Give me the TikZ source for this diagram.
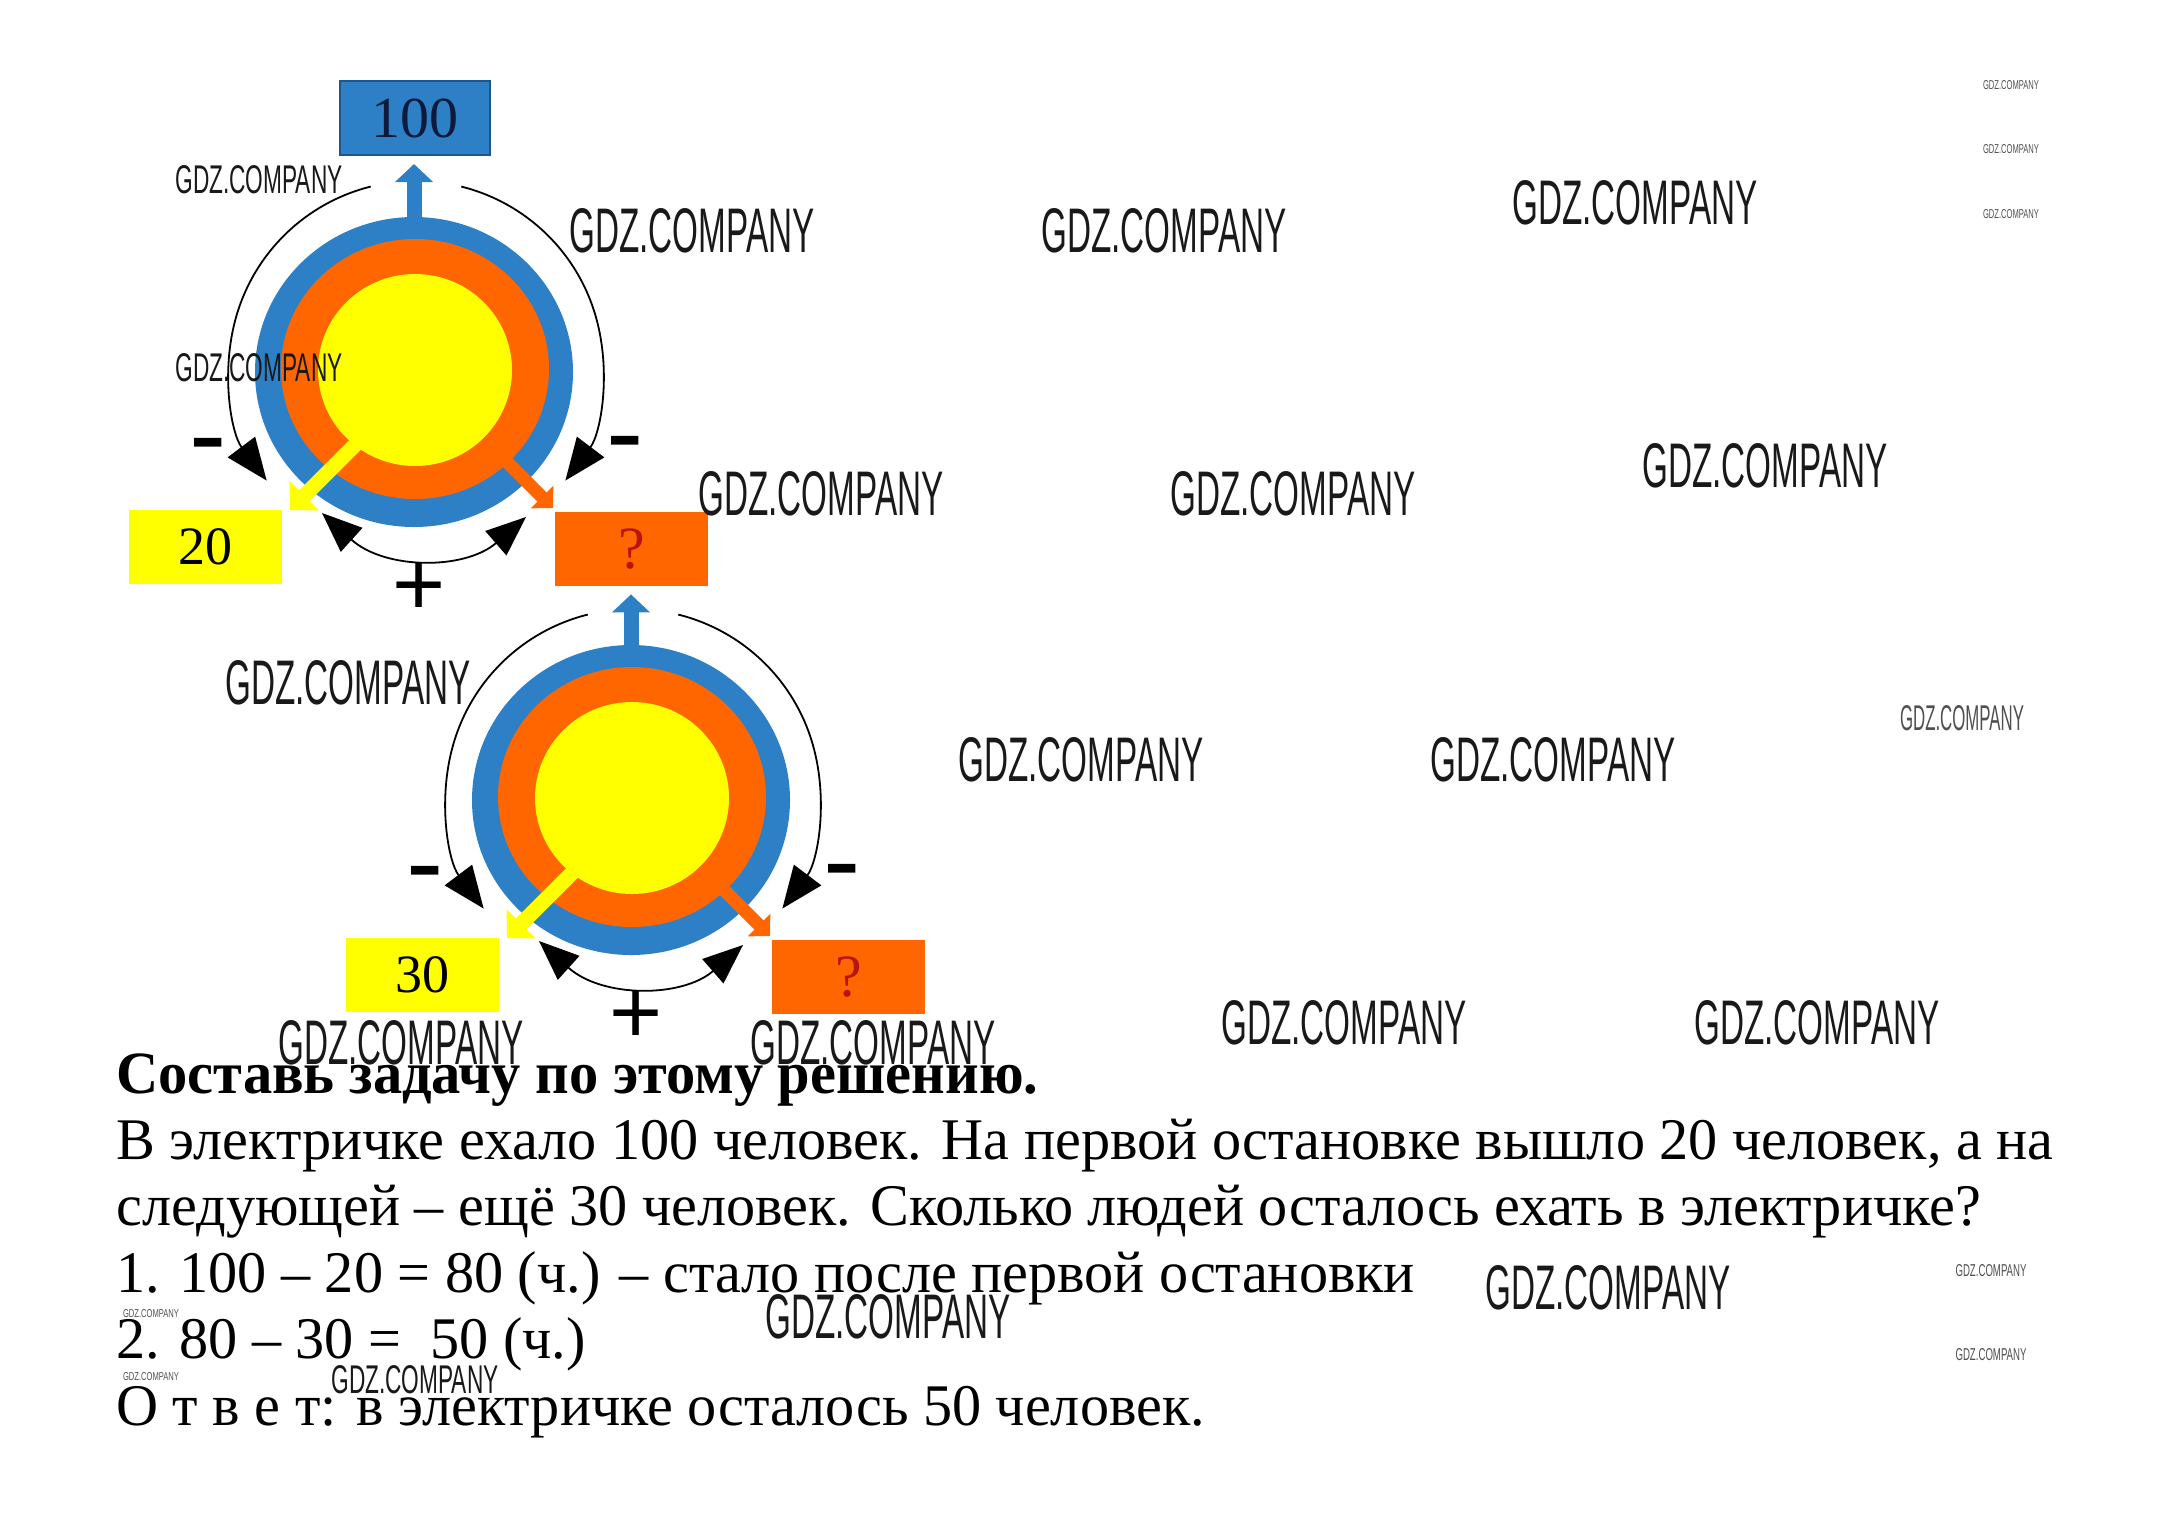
\documentclass[tikz,border=0pt]{standalone}
\usepackage{fontspec}
\setmainfont{Liberation Serif}
\newfontfamily\wmfont{Liberation Sans}
\newfontfamily\signfont{Liberation Sans}
\usetikzlibrary{arrows.meta,shapes.geometric}
\definecolor{ringblue}{RGB}{46,128,198}
\definecolor{boxblueborder}{RGB}{28,86,140}
\definecolor{ringorange}{RGB}{255,102,0}
\definecolor{ringyellow}{RGB}{255,255,0}
\definecolor{qred}{RGB}{185,20,20}
\definecolor{numnavy}{RGB}{15,25,60}
\definecolor{wmgray}{RGB}{80,80,80}
\definecolor{wmdark}{RGB}{25,25,25}
\newsavebox\lineboxB
\newsavebox\lineboxH
\newcommand\bodyfont{\fontsize{29.5}{33}\selectfont}
\newcommand\headfont{\fontsize{30}{33}\selectfont\bfseries}
\tikzset{
  ring/.style={ellipse, inner sep=0pt, draw=none},
  numbox/.style={rectangle, inner sep=0pt, minimum width=76.5pt, minimum height=37pt, font=\fontsize{27}{30}\selectfont},
  uparrow/.style={ringblue, line width=7.5pt, -{Triangle[width=18.5pt,length=9pt]}, shorten >=4pt},
  yarrow/.style={ringyellow, line width=7.5pt, -{Triangle[width=20pt,length=10pt]}},
  oarrow/.style={ringorange, line width=6.5pt, -{Triangle[width=15.5pt,length=7.75pt]}},
  blackarc/.style={line width=0.9pt, black, -{Triangle[length=21pt,width=17pt]}},
  botharc/.style={line width=0.9pt, black, {Triangle[length=20pt,width=16pt]}-{Triangle[length=20pt,width=16pt]}},
  minussign/.style={anchor=base, inner sep=0pt, font=\signfont\fontsize{56}{56}\selectfont},
  plussign/.style={anchor=base, inner sep=0pt, font=\signfont\fontsize{45.5}{46}\selectfont},
  textline/.style={anchor=base west, inner sep=0pt},
  wm/.style={inner sep=0pt, font=\wmfont}
}
\newcommand\stopdiagram[4]{%
\begin{scope}[shift={(#2)}]
  \node[ring, fill=ringblue, minimum width=159pt, minimum height=155pt] (#1blue) at (414,372) {};
  \node[ring, fill=ringorange, minimum width=134pt, minimum height=130pt] (#1orange) at (415,369) {};
  \node[ring, fill=ringyellow, minimum width=97pt, minimum height=96pt] (#1yellow) at (415,370) {};
  \draw[uparrow] (#1blue.north) -- (#1blue.north |- #4.south);
  \coordinate (#1ystart) at (358,442);
  \coordinate (#1yend) at (290,510);
  \coordinate (#1ostart) at (493,448);
  \coordinate (#1oend) at (553,508);
  \draw[yarrow] (#1ystart) -- (#1yend);
  \draw[oarrow] (#1ostart) -- (#1oend);
  \node[numbox, fill=ringyellow] (#1left) at (205.5,546.5) {#3};
  \node[numbox, fill=ringorange, text=qred, font=\fontsize{30}{30}\selectfont] (#1right) at (631.5,549) {?};
  \draw[blackarc] (416,368) ++(-104:187) arc[start angle=-104, end angle=-217, radius=187];
  \draw[blackarc] (416,368) ++(-76:187) arc[start angle=-76, end angle=37, radius=187];
  \coordinate (#1pa) at (322,513);
  \coordinate (#1pb) at (526,517);
  \draw[botharc] (#1pa) .. controls (385,570) and (465,570) .. (#1pb);
  \node[minussign] (#1minusL) at (208.5,472.5) {-};
  \node[minussign] (#1minusR) at (625.5,470.5) {-};
  \node[plussign] (#1plus) at (419.5,615) {+};
\end{scope}}
\begin{document}
\sbox\lineboxB{\bodyfont В электричке ехало 100 человек. На первой остановке вышло 20 человек, а на}%
\sbox\lineboxH{\headfont Составь задачу по этому решению.}%
\pgfmathsetmacro\sxb{968.5/\the\wd\lineboxB}%
\pgfmathsetmacro\sxh{461/\the\wd\lineboxH}%
\begin{tikzpicture}[x=0.5pt,y=-0.5pt]
\useasboundingbox (0,0) rectangle (2171,1517);
\fill[white] (0,0) rectangle (2171,1517);
\node[numbox, fill=ringblue, draw=boxblueborder, line width=1pt, text=numnavy,
      minimum width=75pt, minimum height=37pt, font=\fontsize{29}{30}\selectfont] (top) at (415,118) {100};
\stopdiagram{d1}{0,0}{20}{top}
\stopdiagram{d2}{217,428}{30}{d1right}
% text
\node[textline, font=\headfont] (t1) at (116,1093) {\scalebox{\sxh}[1]{Составь задачу по этому решению.}};
\node[textline, font=\bodyfont] (t2) at (116,1159) {\scalebox{\sxb}[1]{В электричке ехало 100 человек. На первой остановке вышло 20 человек, а на}};
\node[textline, font=\bodyfont] (t3) at (116,1225) {\scalebox{\sxb}[1]{следующей – ещё 30 человек. Сколько людей осталось ехать в электричке?}};
\node[textline, font=\bodyfont] (t4) at (116,1292) {\scalebox{\sxb}[1]{1. 100 – 20 = 80 (ч.) – стало после первой остановки}};
\node[textline, font=\bodyfont] (t5) at (116,1358) {\scalebox{\sxb}[1]{2. 80 – 30 =~~50 (ч.)}};
\node[textline, font=\bodyfont] (t6) at (116,1425) {\scalebox{\sxb}[1]{О т в е т: в электричке осталось 50 человек.}};
% watermarks
\foreach \x/\y/\w/\h/\c [count=\i] in {
  692/230.5/122.5/22/wmdark, 1164/230.5/122.5/22/wmdark, 1635/203/122.5/22/wmdark,
  821/494/122.5/22/wmdark, 1293/494/122.5/22/wmdark, 1765/466/122.5/22/wmdark,
  348/683/122.5/22/wmdark, 1081/759.5/122.5/22/wmdark, 1553/759.5/122.5/22/wmdark,
  401/1043/122.5/22/wmdark, 873/1043/122.5/22/wmdark, 1344/1022.5/122.5/22/wmdark,
  1817/1022.5/122.5/22/wmdark, 1608/1288/122.5/22/wmdark, 888/1317/122.5/22/wmdark,
  259/180/83.5/14/wmdark, 259/368/83.5/14/wmdark, 415/1380/83.5/14/wmdark,
  1962/718.5/62/12.5/wmgray,
  2011/85.5/28/4.5/wmgray, 2011/149.5/28/4.5/wmgray, 2011/214/28/4.5/wmgray,
  1991/1271/35.5/6/wmgray, 1991/1355/35.5/6/wmgray,
  151/1313.5/28/4/wmgray, 151/1377/28/4/wmgray}
  \node[wm, text=\c] (wm\i) at (\x,\y) {\resizebox{\w pt}{\h pt}{GDZ.COMPANY}};
\end{tikzpicture}
\end{document}
